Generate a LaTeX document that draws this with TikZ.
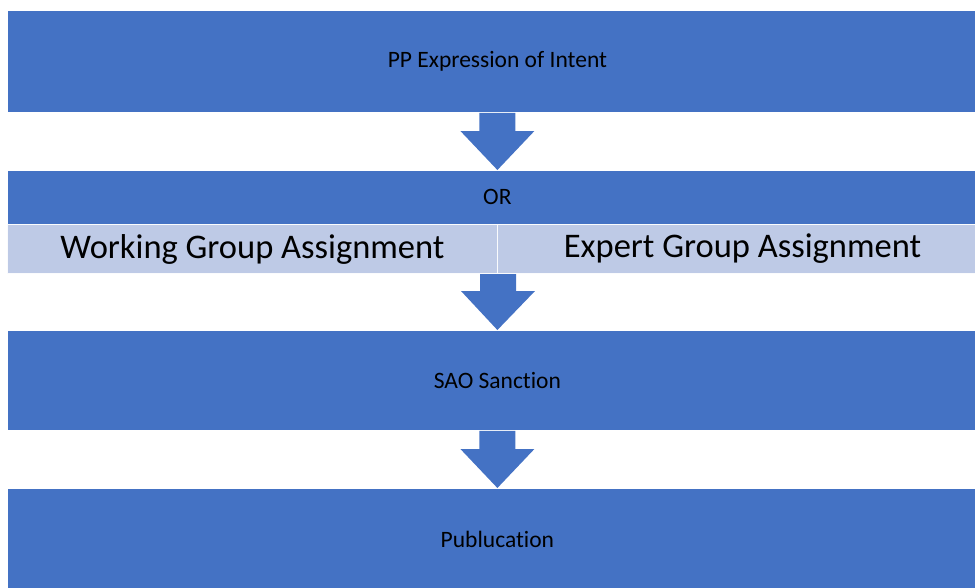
\documentclass[tikz,border=0pt]{standalone}
\usepackage{fontspec}
\setmainfont{Carlito}[Ligatures=NoCommon]
\usetikzlibrary{calc}
\definecolor{stepblue}{RGB}{68,114,196}
\definecolor{celllight}{RGB}{190,202,230}
\tikzset{
  x=1pt, y=-1pt,
  bigbox/.style={fill=stepblue, draw=white, line width=0.8pt, rectangle, anchor=north west,
    minimum width=980pt, inner sep=0pt, font=\fontsize{23.5}{28}\selectfont, text=black},
  cellbox/.style={fill=celllight, draw=white!92!celllight, line width=1pt, rectangle, anchor=north west,
    inner sep=0pt, font=\fontsize{34.5}{40}\selectfont, text=black},
  blockarrow/.style={fill=stepblue, draw=none}
}
\newcommand{\downarrowshape}[2]{% from anchor #1 to anchor #2
  \fill[blockarrow] let \p1=(#1), \p2=(#2) in
    (\x1-18pt,\y1) -- (\x1+18pt,\y1) -- (\x1+18pt,\y2+39pt) -- (\x1+37pt,\y2+39pt)
    -- (\x2,\y2) -- (\x1-37pt,\y2+39pt) -- (\x1-18pt,\y2+39pt) -- cycle;}
\begin{document}
\begin{tikzpicture}
\useasboundingbox (0,0) rectangle (975,587);
\node[bigbox, minimum height=102pt] (intent) at (7,10) {\raisebox{-2pt}{PP Expression of Intent}};
\node[bigbox, minimum height=54pt] (orbox) at (7,170) {OR};
\node[cellbox, minimum width=490pt, minimum height=49pt] (working) at (7,224) {\raisebox{-2pt}{Working Group Assignment}};
\node[cellbox, minimum width=490pt, minimum height=49pt] (expert) at (497,224) {\raisebox{-2pt}{Expert Group Assignment}};
\node[bigbox, minimum height=100pt] (sao) at (7,330) {SAO Sanction};
\node[bigbox, minimum height=102pt] (pub) at (7,488) {Publucation};
% block arrows between the stages
\coordinate (a1s) at (intent.south);
\coordinate (a1e) at (orbox.north);
\downarrowshape{a1s}{a1e}
\coordinate (a2s) at (working.south east);
\coordinate (a2e) at (sao.north);
\downarrowshape{a2s}{a2e}
\coordinate (a3s) at (sao.south);
\coordinate (a3e) at (pub.north);
\downarrowshape{a3s}{a3e}
\end{tikzpicture}
\end{document}
